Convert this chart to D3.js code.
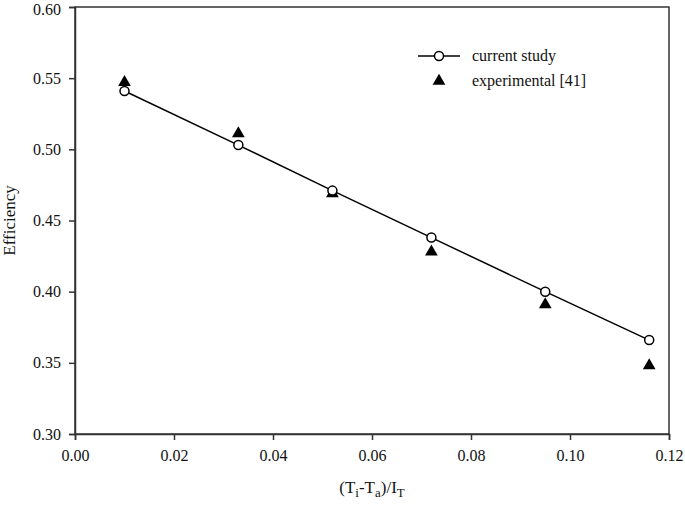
<!DOCTYPE html>
<html>
<head>
<meta charset="utf-8">
<script src="https://cdn.jsdelivr.net/npm/d3@7"></script>
<style>
  body { margin: 0; background: #fff; }
  text { font-family: "Liberation Serif", "Times New Roman", serif; fill: #111; }
</style>
</head>
<body>
<svg id="chart"></svg>
<script>
// values
const xVals = [0.010, 0.033, 0.052, 0.072, 0.095, 0.116]
const currentStudy = [0.541, 0.503, 0.471, 0.438, 0.400, 0.366]
const experimental = [0.547, 0.511, 0.469, 0.428, 0.391, 0.348]
const xTicks = [0.00, 0.02, 0.04, 0.06, 0.08, 0.10, 0.12]
const yTicks = [0.30, 0.35, 0.40, 0.45, 0.50, 0.55, 0.60]

const width = 685, height = 509
const margin = { top: 7, right: 16, bottom: 75, left: 75 }
const w = width - margin.left - margin.right
const h = height - margin.top - margin.bottom

const svg = d3.select('#chart')
  .attr('width', width)
  .attr('height', height)

const g = svg.append('g')
  .attr('transform', `translate(${margin.left},${margin.top})`)

const x = d3.scaleLinear().domain([0, 0.12]).range([0, w])
const y = d3.scaleLinear().domain([0.30, 0.60]).range([h, 0])

// frame
g.append('rect')
  .attr('width', w).attr('height', h)
  .attr('fill', 'none').attr('stroke', '#333').attr('stroke-width', 1.5)

const xAxis = d3.axisBottom(x).tickValues(xTicks).tickFormat(d3.format('.2f')).tickSize(6).tickPadding(10)
const yAxis = d3.axisLeft(y).tickValues(yTicks).tickFormat(d3.format('.2f')).tickSize(6).tickPadding(8)

const gx = g.append('g').attr('transform', `translate(0,${h})`).call(xAxis)
const gy = g.append('g').call(yAxis)
for (const a of [gx, gy]) {
  a.select('.domain').attr('stroke', '#333').attr('stroke-width', 1.5)
  a.selectAll('.tick line').attr('stroke', '#333').attr('stroke-width', 1.5)
  a.selectAll('.tick text').style('font-size', '16px').attr('fill', '#111')
    .style('font-family', '"Liberation Serif", serif')
}
// keep the top label inside the window
gy.selectAll('.tick text').filter(d => d === 0.60).attr('dy', '0.45em')

// line + circles
const pts = xVals.map((d, i) => [d, currentStudy[i]])
g.append('path')
  .datum(pts)
  .attr('fill', 'none').attr('stroke', '#000').attr('stroke-width', 1.5)
  .attr('d', d3.line().x(d => x(d[0])).y(d => y(d[1])))

const tri = d3.symbol().type(d3.symbolTriangle).size(70)

g.selectAll('.exp')
  .data(xVals.map((d, i) => [d, experimental[i]]))
  .join('path')
  .attr('class', 'exp')
  .attr('d', tri)
  .attr('fill', '#000')
  .attr('transform', d => `translate(${x(d[0])},${y(d[1])})`)

g.selectAll('.cur')
  .data(pts)
  .join('circle')
  .attr('class', 'cur')
  .attr('cx', d => x(d[0])).attr('cy', d => y(d[1]))
  .attr('r', 4.5)
  .attr('fill', '#fff').attr('stroke', '#000').attr('stroke-width', 1.5)

// legend
const lg = svg.append('g').attr('transform', 'translate(418,56)')
lg.append('line').attr('x1', 0).attr('x2', 42).attr('y1', 0).attr('y2', 0)
  .attr('stroke', '#000').attr('stroke-width', 1.5)
lg.append('circle').attr('cx', 21).attr('cy', 0).attr('r', 4.5)
  .attr('fill', '#fff').attr('stroke', '#000').attr('stroke-width', 1.5)
lg.append('text').attr('x', 54).attr('y', 5).style('font-size', '16px').text('current study')
lg.append('path').attr('d', tri).attr('fill', '#000').attr('transform', 'translate(21,25)')
lg.append('text').attr('x', 54).attr('y', 30).style('font-size', '16px').text('experimental [41]')

// axis titles
svg.append('text')
  .attr('transform', `translate(15,${margin.top + h / 2}) rotate(-90)`)
  .attr('text-anchor', 'middle')
  .style('font-size', '17px')
  .text('Efficiency')

const xt = svg.append('text')
  .attr('x', margin.left + w / 2)
  .attr('y', 493)
  .attr('text-anchor', 'middle')
  .style('font-size', '17px')
xt.append('tspan').text('(T')
xt.append('tspan').attr('dy', 4).style('font-size', '13px').text('i')
xt.append('tspan').attr('dy', -4).text('-T')
xt.append('tspan').attr('dy', 4).style('font-size', '13px').text('a')
xt.append('tspan').attr('dy', -4).text(')/I')
xt.append('tspan').attr('dy', 4).style('font-size', '13px').text('T')
</script>
</body>
</html>
